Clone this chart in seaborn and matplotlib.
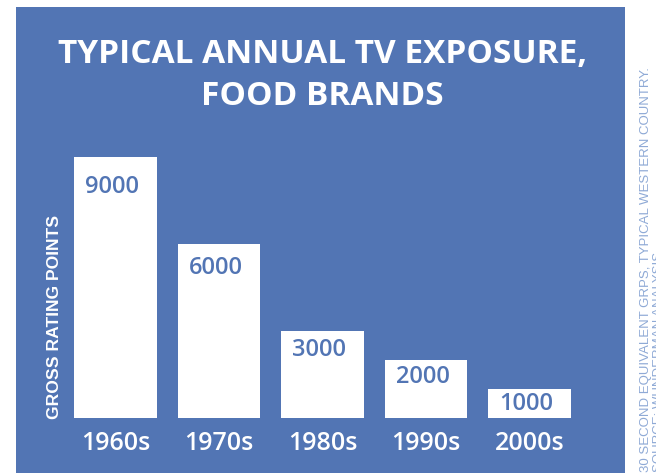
import matplotlib
matplotlib.use("Agg")
import matplotlib.pyplot as plt
from matplotlib.patches import Rectangle
from matplotlib import transforms
import seaborn as sns
import pandas as pd

# Data
decades = ["1960s", "1970s", "1980s", "1990s", "2000s"]
grps = [9000, 6000, 3000, 2000, 1000]
value_labels = ["9000", "6000", "3000", "2000", "1000"]

title_lines = ["TYPICAL ANNUAL TV EXPOSURE,", "FOOD BRANDS"]
y_title = "GROSS RATING POINTS"
notes = ["30 SECOND EQUIVALENT GRPS, TYPICAL WESTERN COUNTRY.",
         "SOURCE: WUNDERMAN ANALYSIS"]

BLUE = "#5275B4"
NOTE_BLUE = "#8FAAD6"

sns.set_theme(style="white")
plt.rcParams["font.family"] = ["Open Sans", "DejaVu Sans"]

W, H = 656, 473
fig = plt.figure(figsize=(W / 100, H / 100), dpi=100, facecolor="white")

# blue panel behind the chart
fig.patches.append(Rectangle((16 / W, 0), 609 / W, (H - 7) / H,
                             transform=fig.transFigure, facecolor=BLUE,
                             edgecolor="none", zorder=-5))

ax = fig.add_axes([63.75 / W, (H - 418) / H, 517.5 / W, 261 / H])
ax.set_facecolor("none")
ax.set_zorder(2)

df = pd.DataFrame({"decade": decades, "grps": grps})
sns.barplot(data=df, x="decade", y="grps", color="white", saturation=1,
            width=0.8, edgecolor="none", linewidth=0, ax=ax, errorbar=None)

ax.set_xlim(-0.5, len(decades) - 0.5)
ax.set_ylim(0, max(grps))
for s in ax.spines.values():
    s.set_visible(False)
ax.set_yticks([])
ax.set_xlabel("")
ax.set_ylabel("")
ax.tick_params(axis="x", length=0, pad=9, labelsize=18, labelcolor="white")
for lab in ax.get_xticklabels():
    lab.set_fontweight("semibold")

# value labels inside the top-left of each bar; short bars get a smaller gap
top = max(grps)
for i, (v, txt) in enumerate(zip(grps, value_labels)):
    gap = 1 + 17 * v / top
    tr = transforms.offset_copy(ax.transData, fig=fig, x=11, y=-gap, units="dots")
    ax.text(i - 0.4, v, txt, transform=tr, ha="left", va="top",
            fontsize=17, fontweight="semibold", color=BLUE, clip_on=False)

# title
fig.text(322 / W, (H - 63) / H, title_lines[0], ha="center", va="baseline",
         fontsize=24, fontweight="bold", color="white")
fig.text(322 / W, (H - 105) / H, title_lines[1], ha="center", va="baseline",
         fontsize=24, fontweight="bold", color="white")

# axis title
fig.text(55 / W, (H - 316.5) / H, y_title, rotation=90, ha="center",
         va="center", fontsize=12.6, fontweight="bold", color="white",
         family=["Liberation Sans", "DejaVu Sans"])

# side notes, running up the right edge
fig.text(649 / W, 1 / H, notes[0], rotation=90, rotation_mode="anchor",
         ha="left", va="baseline", fontsize=9.5, color=NOTE_BLUE,
         family=["Liberation Sans", "DejaVu Sans"])
fig.text(662 / W, 1 / H, notes[1], rotation=90, rotation_mode="anchor",
         ha="left", va="baseline", fontsize=9.5, color=NOTE_BLUE,
         family=["Liberation Sans", "DejaVu Sans"])

fig.savefig("out.png", dpi=100, facecolor="white")
